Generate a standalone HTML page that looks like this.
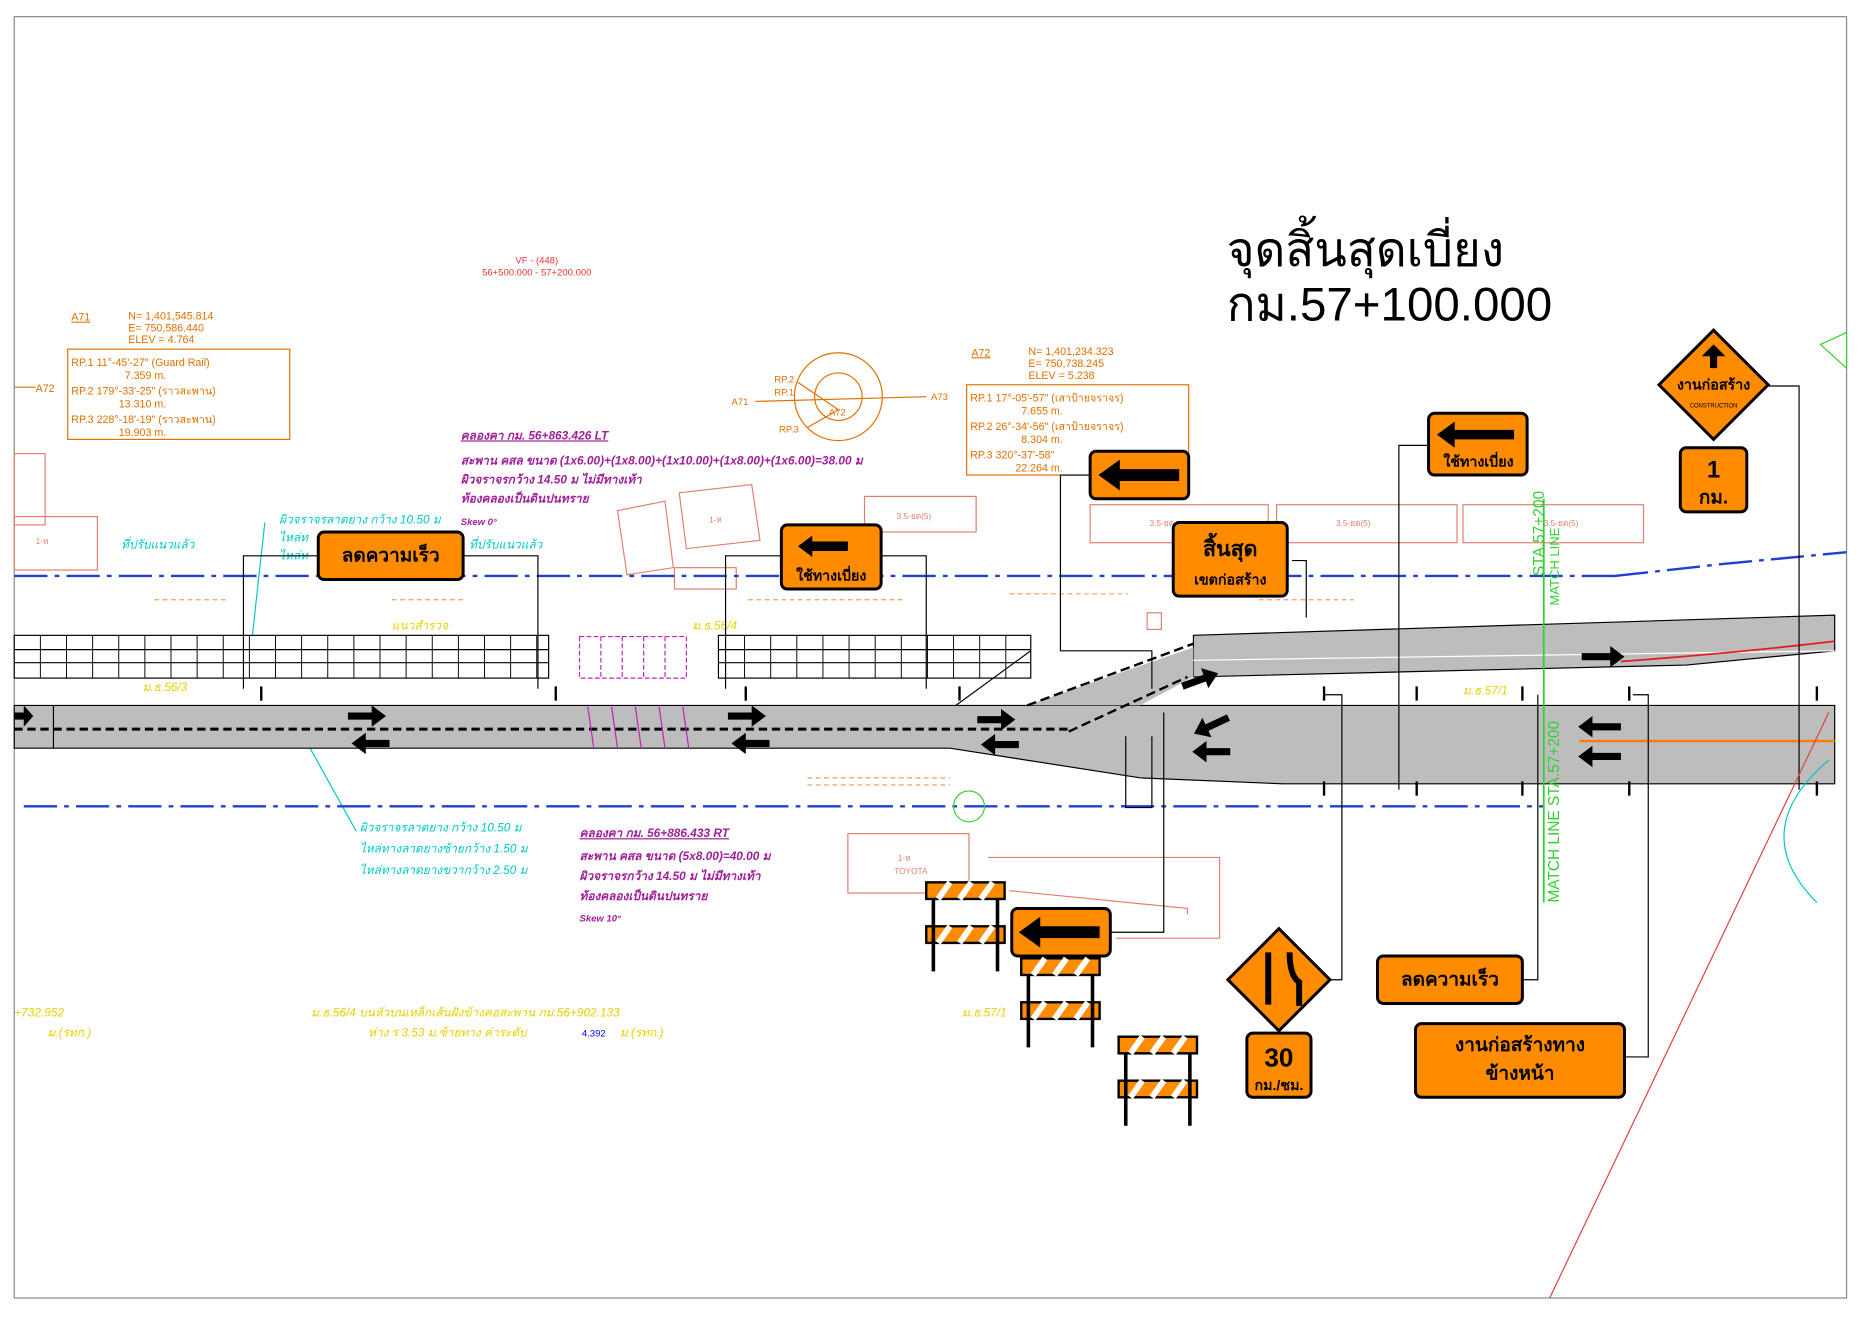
<!DOCTYPE html>
<html><head><meta charset="utf-8"><style>
html,body{margin:0;padding:0;background:#fff}
svg{display:block}
text{font-family:"Liberation Sans","Noto Sans CJK SC",sans-serif}
.sg{fill:#ff8c00;stroke:#000;stroke-width:2.5}
.st{font-weight:bold;fill:#000}
</style></head><body>
<svg width="1862" height="1317" viewBox="0 0 1568 1109" xmlns="http://www.w3.org/2000/svg">
<rect x="0" y="0" width="1568" height="1109" fill="#fff"/>
<rect x="12" y="14" width="1543" height="1079" fill="none" stroke="#888" stroke-width="1"/>

<text x="1033" y="224" font-size="40">จุดสิ้นสุดเบี่ยง</text>
<text x="1033" y="270" font-size="40">กม.57+100.000</text>

<text x="452" y="222" font-size="8" fill="#e33" text-anchor="middle">VF - (448)</text>
<text x="452" y="232" font-size="8" fill="#e33" text-anchor="middle">56+500.000 - 57+200.000</text>

<g fill="#e07000" font-size="9">
<text x="60" y="270" text-decoration="underline">A71</text>
<text x="108" y="269">N= 1,401,545.814</text>
<text x="108" y="279">E=  750,586.440</text>
<text x="108" y="289">ELEV  = 4.764</text>
<rect x="57" y="294" width="187" height="76" fill="none" stroke="#e07000"/>
<text x="60" y="308">RP.1 11°-45'-27"  (Guard Rail)</text><text x="105" y="319">7.359 m.</text>
<text x="60" y="332">RP.2 179°-33'-25" (ราวสะพาน)</text><text x="100" y="343">13.310 m.</text>
<text x="60" y="356">RP.3 228°-18'-19" (ราวสะพาน)</text><text x="100" y="367">19.903 m.</text>
<text x="30" y="330">A72</text>
<text x="818" y="300" text-decoration="underline">A72</text>
<text x="866" y="299">N= 1,401,234.323</text>
<text x="866" y="309">E=  750,738.245</text>
<text x="866" y="319">ELEV  = 5.238</text>
<rect x="814" y="324" width="187" height="76" fill="none" stroke="#e07000"/>
<text x="817" y="338">RP.1 17°-05'-57"  (เสาป้ายจราจร)</text><text x="860" y="349">7.655 m.</text>
<text x="817" y="362">RP.2 26°-34'-56"  (เสาป้ายจราจร)</text><text x="860" y="373">8.304 m.</text>
<text x="817" y="386">RP.3 320°-37'-58"</text><text x="855" y="397">22.264 m.</text>
</g>
<line x1="12" y1="326" x2="30" y2="326" stroke="#e07000"/>
<g stroke="#e07000" fill="none">
<circle cx="706" cy="334" r="37"/><circle cx="706" cy="334" r="20"/>
<line x1="636" y1="338" x2="780" y2="334"/>
<line x1="672" y1="322" x2="706" y2="345"/><line x1="680" y1="360" x2="706" y2="345"/>
</g>
<g fill="#e07000" font-size="8"><text x="616" y="341">A71</text><text x="784" y="337">A73</text><text x="652" y="322">RP.2</text><text x="652" y="333">RP.1</text><text x="656" y="364">RP.3</text><text x="698" y="350">A72</text></g>

<g fill="#a0209a" font-size="10" font-style="italic" font-weight="bold">
<text x="388" y="370" text-decoration="underline">คลองคา กม. 56+863.426 LT</text>
<text x="388" y="391">สะพาน คสล ขนาด (1x6.00)+(1x8.00)+(1x10.00)+(1x8.00)+(1x6.00)=38.00 ม</text>
<text x="388" y="407">ผิวจราจรกว้าง 14.50 ม ไม่มีทางเท้า</text>
<text x="388" y="423">ท้องคลองเป็นดินปนทราย</text>
<text x="388" y="442" font-size="8">Skew 0°</text>
<text x="488" y="705" text-decoration="underline">คลองคา กม. 56+886.433 RT</text>
<text x="488" y="724">สะพาน คสล ขนาด (5x8.00)=40.00 ม</text>
<text x="488" y="741">ผิวจราจรกว้าง 14.50 ม ไม่มีทางเท้า</text>
<text x="488" y="758">ท้องคลองเป็นดินปนทราย</text>
<text x="488" y="776" font-size="8">Skew 10°</text>
</g>
<g fill="#00c8c8" font-size="10" font-style="italic">
<text x="235" y="441">ผิวจราจรลาดยาง กว้าง 10.50 ม</text>
<text x="235" y="456">ไหล่ท</text><text x="235" y="471">ไหล่ท</text>
<text x="303" y="700">ผิวจราจรลาดยาง กว้าง 10.50 ม</text>
<text x="303" y="718">ไหล่ทางลาดยางซ้ายกว้าง 1.50 ม</text>
<text x="303" y="736">ไหล่ทางลาดยางขวากว้าง 2.50 ม</text>
<text x="102" y="462">ที่ปรับแนวแล้ว</text><text x="395" y="462">ที่ปรับแนวแล้ว</text>
</g>
<polyline points="223,440 212,540" stroke="#00c8c8" fill="none"/>
<polyline points="300,700 250,610" stroke="#00c8c8" fill="none"/>
<g fill="#e8d000" font-size="10" font-style="italic">
<text x="262" y="856">ม.ธ.56/4 บนหัวบนเหล็กเส้นฝังข้างคอสะพาน กม.56+902.133</text>
<text x="310" y="873">ห่าง ร 3.53 ม.ซ้ายทาง   ค่าระดับ</text>
<text x="810" y="856">ม.ธ.57/1</text><text x="12" y="856">+732.952</text>
<text x="40" y="873">ม.(รทก.)</text><text x="522" y="873">ม.(รทก.)</text>
<text x="120" y="582">ม.ธ.56/3</text><text x="583" y="530">ม.ธ.56/4</text><text x="1232" y="585">ม.ธ.57/1</text>
<text x="330" y="530">แนวสำรวจ</text>
</g>
<text x="490" y="873" font-size="8" fill="#00f">4.392</text>

<g fill="none" stroke="#e08070" stroke-width="1">
<rect x="12" y="382" width="26" height="60"/><rect x="12" y="435" width="70" height="45"/>
<polygon points="520,430 560,422 567,478 528,484"/>
<polygon points="572,415 633,408 640,455 578,462"/>
<rect x="728" y="418" width="94" height="30"/>
<rect x="918" y="425" width="150" height="32"/><rect x="1075" y="425" width="152" height="32"/><rect x="1232" y="425" width="152" height="32"/>
<rect x="568" y="478" width="52" height="18"/>
<rect x="714" y="702" width="102" height="50"/>
<polyline points="832,722 1027,722 1027,790 940,790"/>
<polyline points="850,750 1000,765 1000,770"/>
<rect x="966" y="516" width="12" height="14"/>
</g>
<g fill="#e08070" font-size="7"><text x="30" y="458">1-ห</text><text x="597" y="440">1-ห</text><text x="755" y="437">3.5-ยต(5)</text><text x="1125" y="443">3.5-ยต(5)</text><text x="968" y="443">3.5-ยต</text><text x="1300" y="443">3.5-ยต(5)</text><text x="756" y="725">1-ห</text><text x="753" y="736">TOYOTA</text></g>

<g stroke="#2040d0" stroke-width="2" stroke-dasharray="28,6,4,6" fill="none">
<line x1="12" y1="485" x2="1360" y2="485"/>
<polyline points="1360,485 1450,475 1555,465"/>
<line x1="20" y1="679" x2="1300" y2="679"/>
</g>

<g stroke="#f0a060" stroke-width="1" stroke-dasharray="4,3">
<line x1="130" y1="505" x2="190" y2="505"/><line x1="330" y1="505" x2="390" y2="505"/><line x1="630" y1="505" x2="760" y2="505"/><line x1="850" y1="500" x2="950" y2="500"/><line x1="1060" y1="505" x2="1140" y2="505"/>
<line x1="680" y1="655" x2="800" y2="655"/><line x1="680" y1="661" x2="800" y2="661"/>
</g>

<g stroke="#000" stroke-width="1" fill="#fff">
<rect x="12" y="535" width="450" height="36"/><rect x="605" y="535" width="263" height="36"/>
</g>
<g stroke="#000" stroke-width="1">
<line x1="12" y1="547" x2="462" y2="547"/><line x1="12" y1="558" x2="462" y2="558"/>
<line x1="605" y1="547" x2="868" y2="547"/><line x1="605" y1="558" x2="868" y2="558"/>
</g>
<g stroke="#000" stroke-width="0.8" id="vg"></g>
<g fill="none" stroke="#c020c0" stroke-dasharray="4,2"><rect x="488" y="536" width="90" height="35"/><line x1="506" y1="536" x2="506" y2="571"/><line x1="524" y1="536" x2="524" y2="571"/><line x1="542" y1="536" x2="542" y2="571"/><line x1="560" y1="536" x2="560" y2="571"/></g>

<polygon points="12,594 1545,594 1545,660 1080,660 960,655 800,630 12,630" fill="#bdbdbd" stroke="#000" stroke-width="1"/>
<line x1="45" y1="594" x2="45" y2="630" stroke="#000"/>
<polygon points="1005,535 1545,518 1545,548 1420,560 1005,570" fill="#bdbdbd" stroke="#000" stroke-width="1"/>
<polygon points="865,594 1005,545 1005,570 960,594" fill="#bdbdbd"/>
<line x1="865" y1="594" x2="1005" y2="542" stroke="#000" stroke-width="2" stroke-dasharray="8,4"/>
<line x1="900" y1="616" x2="1000" y2="570" stroke="#000" stroke-width="2" stroke-dasharray="8,4"/>
<line x1="1005" y1="556" x2="1545" y2="548" stroke="#fff" stroke-width="1"/>
<path d="M1365,557 Q1460,550 1545,540" stroke="#e02020" stroke-width="1.5" fill="none"/>
<line x1="1330" y1="624" x2="1545" y2="624" stroke="#ff7a00" stroke-width="2"/>
<line x1="12" y1="614" x2="900" y2="614" stroke="#000" stroke-width="2.5" stroke-dasharray="7,4"/>
<g fill="none" stroke="#c020c0"><line x1="495" y1="595" x2="500" y2="630"/><line x1="515" y1="595" x2="520" y2="630"/><line x1="535" y1="595" x2="540" y2="630"/><line x1="555" y1="595" x2="560" y2="630"/><line x1="575" y1="595" x2="580" y2="630"/></g>

<g fill="#000">
<path d="M293,600 h20 v-6 l12,9 l-12,9 v-6 h-20z"/><path d="M328,623 h-20 v-6 l-12,9 l12,9 v-6 h20z"/>
<path d="M613,600 h20 v-6 l12,9 l-12,9 v-6 h-20z"/><path d="M648,623 h-20 v-6 l-12,9 l12,9 v-6 h20z"/>
<path d="M823,603 h20 v-6 l12,9 l-12,9 v-6 h-20z"/><path d="M858,624 h-20 v-6 l-12,9 l12,9 v-6 h20z"/>
<path d="M12,600 h8 v-6 l8,9 l-8,9 v-6 h-8z"/>
<path d="M1036,608 h-20 v-6 l-12,9 l12,9 v-6 h20z" transform="rotate(-25 1020 611)"/>
<path d="M1036,630 h-20 v-6 l-12,9 l12,9 v-6 h20z"/>
<path d="M995,569 h20 v-6 l12,9 l-12,9 v-6 h-20z" transform="rotate(-20 1012 573)"/>
<path d="M1332,550 h24 v-6 l12,9 l-12,9 v-6 h-24z"/>
<path d="M1365,609 h-24 v-6 l-12,9 l12,9 v-6 h24z"/><path d="M1365,634 h-24 v-6 l-12,9 l12,9 v-6 h24z"/>
</g>

<g stroke="#000" stroke-width="1" fill="none">
<polyline points="268,468 205,468 205,580"/><polyline points="390,468 453,468 453,580"/>
<polyline points="658,468 611,468 611,580"/><polyline points="742,468 780,468 780,580"/>
<polyline points="918,400 893,400 893,548 970,548 970,580"/>
<polyline points="1088,472 1100,472 1100,520"/>
<polyline points="1203,375 1178,375 1178,665"/>
<polyline points="1466,325 1515,325 1515,665"/>
<polyline points="935,785 980,785 980,600"/>
<polyline points="948,620 948,680 970,680 970,620"/>
<polyline points="1120,825 1130,825 1130,585 1115,585"/>
<polyline points="1282,825 1295,825 1295,585"/>
<polyline points="1368,890 1388,890 1388,585 1375,585"/>
<line x1="805" y1="594" x2="868" y2="548"/>
</g>
<g stroke="#000" stroke-width="2">
<line x1="220" y1="578" x2="220" y2="590"/><line x1="468" y1="578" x2="468" y2="590"/><line x1="628" y1="578" x2="628" y2="590"/><line x1="808" y1="578" x2="808" y2="590"/>
<line x1="1115" y1="578" x2="1115" y2="590"/><line x1="1193" y1="578" x2="1193" y2="590"/><line x1="1282" y1="578" x2="1282" y2="590"/><line x1="1372" y1="578" x2="1372" y2="590"/><line x1="1530" y1="578" x2="1530" y2="590"/>
<line x1="1115" y1="658" x2="1115" y2="670"/><line x1="1193" y1="658" x2="1193" y2="670"/><line x1="1282" y1="658" x2="1282" y2="670"/><line x1="1372" y1="658" x2="1372" y2="670"/><line x1="1530" y1="658" x2="1530" y2="670"/>
</g>

<line x1="1300" y1="420" x2="1300" y2="760" stroke="#30d030" stroke-width="1.5"/>
<text transform="translate(1300,485) rotate(-90)" font-size="13" fill="#30d030">STA.57+200</text>
<text transform="translate(1313,510) rotate(-90)" font-size="11" fill="#30d030">MATCH LINE</text>
<text transform="translate(1313,760) rotate(-90)" font-size="13" fill="#30d030">MATCH LINE  STA.57+200</text>
<circle cx="816" cy="679" r="13" fill="none" stroke="#30d030"/>
<path d="M1533,290 l22,-10 v30 z" fill="none" stroke="#30d030"/>
<line x1="1540" y1="600" x2="1305" y2="1093" stroke="#e04040" stroke-width="1"/>
<path d="M1530,760 q-60,-60 10,-120" stroke="#00c8c8" fill="none"/>

<g>
<rect class="sg" x="268" y="448" width="122" height="40" rx="5"/><text class="st" x="329" y="473" font-size="16" text-anchor="middle">ลดความเร็ว</text>
<rect class="sg" x="658" y="442" width="84" height="54" rx="5"/><path d="M672,460 l12,-9 v5 h30 v8 h-30 v5z" fill="#000"/><text class="st" x="700" y="489" font-size="12" text-anchor="middle">ใช้ทางเบี่ยง</text>
<rect class="sg" x="918" y="380" width="83" height="40" rx="5"/><path d="M925,400 l18,-13 v8 h50 v10 h-50 v8z" fill="#000"/>
<rect class="sg" x="988" y="440" width="96" height="62" rx="5"/><text class="st" x="1036" y="468" font-size="18" text-anchor="middle">สิ้นสุด</text><text class="st" x="1036" y="492" font-size="12" text-anchor="middle">เขตก่อสร้าง</text>
<rect class="sg" x="1203" y="348" width="83" height="52" rx="5"/><path d="M1210,366 l15,-11 v7 h50 v8 h-50 v7z" fill="#000"/><text class="st" x="1245" y="393" font-size="12" text-anchor="middle">ใช้ทางเบี่ยง</text>
<rect class="sg" x="1415" y="377" width="56" height="54" rx="5"/><text class="st" x="1443" y="402" font-size="20" text-anchor="middle">1</text><text class="st" x="1443" y="424" font-size="16" text-anchor="middle">กม.</text>
<rect class="sg" x="852" y="765" width="83" height="40" rx="5"/><path d="M858,785 l18,-13 v8 h50 v10 h-50 v8z" fill="#000"/>
<rect class="sg" x="1160" y="805" width="122" height="40" rx="5"/><text class="st" x="1221" y="830" font-size="16" text-anchor="middle">ลดความเร็ว</text>
<rect class="sg" x="1192" y="862" width="176" height="62" rx="5"/><text class="st" x="1280" y="885" font-size="16" text-anchor="middle">งานก่อสร้างทาง</text><text class="st" x="1280" y="909" font-size="16" text-anchor="middle">ข้างหน้า</text>
<rect class="sg" x="1050" y="870" width="54" height="54" rx="5"/><text class="st" x="1077" y="898" font-size="22" text-anchor="middle">30</text><text class="st" x="1077" y="918" font-size="12" text-anchor="middle">กม./ชม.</text>
<polygon class="sg" points="1443,278 1489,324 1443,370 1397,324"/>
<path d="M1443,290 l-10,10 h7 v10 h6 v-10 h7z" fill="#000"/>
<text class="st" x="1443" y="328" font-size="12" text-anchor="middle">งานก่อสร้าง</text>
<text x="1443" y="343" font-size="5" text-anchor="middle">CONSTRUCTION</text>
<polygon class="sg" points="1077,782 1120,825 1077,868 1034,825"/>
<path d="M1068,802 v44 M1086,802 q0,20 8,25 v20" stroke="#000" stroke-width="5" fill="none"/>
</g>

<g id="bar">
<rect x="780" y="743" width="66" height="14" fill="#ff8c00" stroke="#000" stroke-width="2"/>
<rect x="780" y="780" width="66" height="14" fill="#ff8c00" stroke="#000" stroke-width="2"/>
<g stroke="#fff" stroke-width="5"><line x1="790" y1="757" x2="800" y2="743"/><line x1="808" y1="757" x2="818" y2="743"/><line x1="826" y1="757" x2="836" y2="743"/><line x1="790" y1="794" x2="800" y2="780"/><line x1="808" y1="794" x2="818" y2="780"/><line x1="826" y1="794" x2="836" y2="780"/></g>
<line x1="786" y1="757" x2="786" y2="818" stroke="#000" stroke-width="3"/><line x1="840" y1="757" x2="840" y2="818" stroke="#000" stroke-width="3"/>
</g>
<use href="#bar" transform="translate(80,64)"/>
<use href="#bar" transform="translate(162,130)"/>
</svg>
<script>
var g=document.getElementById('vg'),s='';
for(var x=34;x<462;x+=22)s+='<line x1="'+x+'" y1="535" x2="'+x+'" y2="571"/>';
for(var x=627;x<868;x+=22)s+='<line x1="'+x+'" y1="535" x2="'+x+'" y2="571"/>';
g.innerHTML=s;
</script>
</body></html>
